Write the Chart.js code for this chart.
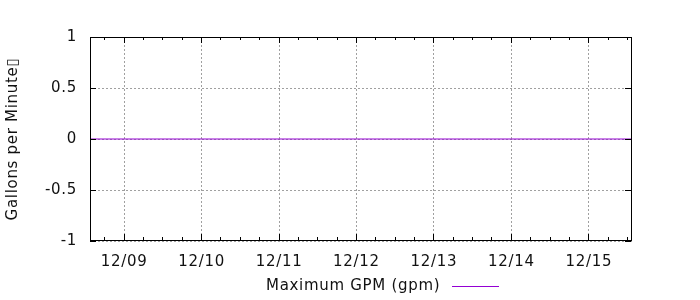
<!DOCTYPE html>
<html>
<head>
<meta charset="utf-8">
<script src="https://cdn.jsdelivr.net/npm/chart.js@4/dist/chart.umd.min.js"></script>
<style>
    html, body { margin: 0; padding: 0; background: #fff; }
</style>
</head>
<body>
<canvas id="gpmChart" width="700" height="300"></canvas>
<script>
// Hours counted from 12/09 00:00.
const sampleHours = [-10.6, 0, 24, 48, 72, 96, 120, 144, 157.4];
const maxGpm = [0, 0, 0, 0, 0, 0, 0, 0, 0];

// Day ticks on the time axis and their labels.
const dayHours = [0, 24, 48, 72, 96, 120, 144];
const dayLabels = ['12/09', '12/10', '12/11', '12/12', '12/13', '12/14', '12/15'];

// Value axis ticks.
const yTicks = [-1, -0.5, 0, 0.5, 1];

const seriesLabel = 'Maximum GPM (gpm)';
const seriesColor = '#9400d3';

const FONT = "'DejaVu Sans', sans-serif";
const SPACING = '0.7px';
Chart.defaults.font.family = FONT;
Chart.defaults.font.size = 15;
Chart.defaults.color = '#111';

const isDay = v => v % 24 === 0;

// gnuplot text is a little wider than the canvas default.
const spacing = {
    id: 'spacing',
    beforeLayout(chart) { chart.ctx.letterSpacing = SPACING; },
    beforeDraw(chart) { chart.ctx.letterSpacing = SPACING; }
};

// Frame round the plot with inward tick marks, like gnuplot draws it.
const frame = {
    id: 'frame',
    afterDatasetsDraw(chart) {
        const { ctx, chartArea: a, scales: { x, y } } = chart;
        const al = p => Math.round(p - 0.5) + 0.5;
        ctx.save();
        ctx.strokeStyle = '#000';
        ctx.lineWidth = 1;
        ctx.beginPath();
        x.ticks.forEach(t => {
            const px = al(x.getPixelForValue(t.value));
            const len = isDay(t.value) ? 6 : 3;
            ctx.moveTo(px, a.bottom - 1); ctx.lineTo(px, a.bottom - 1 - len);
            ctx.moveTo(px, a.top); ctx.lineTo(px, a.top + len);
        });
        y.ticks.forEach(t => {
            const py = al(y.getPixelForValue(t.value));
            ctx.moveTo(a.left, py); ctx.lineTo(a.left + 6, py);
            ctx.moveTo(a.right - 1, py); ctx.lineTo(a.right - 7, py);
        });
        ctx.stroke();
        ctx.strokeRect(a.left + 0.5, a.top + 0.5, a.right - a.left - 1, a.bottom - a.top - 1);
        ctx.restore();
    }
};

// Key under the axis: text first, line sample after it.
const bottomKey = {
    id: 'bottomKey',
    afterDraw(chart, args, opts) {
        const ds = chart.data.datasets[0];
        const ctx = chart.ctx;
        ctx.save();
        ctx.font = '15px ' + FONT;
        ctx.letterSpacing = SPACING;
        ctx.fillStyle = '#111';
        ctx.textAlign = 'left';
        ctx.textBaseline = 'middle';
        ctx.fillText(ds.label, opts.textLeft, opts.y);
        ctx.strokeStyle = ds.borderColor;
        ctx.lineWidth = 1;
        ctx.beginPath();
        ctx.moveTo(opts.lineStart, opts.y + 0.5);
        ctx.lineTo(opts.lineEnd, opts.y + 0.5);
        ctx.stroke();
        ctx.restore();
    }
};

const ctx = document.getElementById('gpmChart').getContext('2d');
new Chart(ctx, {
    type: 'line',
    data: {
        datasets: [{
            label: seriesLabel,
            data: sampleHours.map((h, i) => ({ x: h, y: maxGpm[i] })),
            borderColor: seriesColor,
            borderWidth: 1,
            pointRadius: 0,
            tension: 0
        }]
    },
    options: {
        responsive: false,
        animation: false,
        layout: { padding: { left: 0, top: 37, right: 68, bottom: 0 } },
        plugins: {
            legend: { display: false },
            tooltip: { enabled: false },
            bottomKey: { textLeft: 266, lineStart: 452, lineEnd: 499, y: 286 }
        },
        scales: {
            x: {
                type: 'linear',
                min: -10.6,
                max: 157.4,
                afterBuildTicks: s => {
                    const ticks = [];
                    for (let h = -6; h <= 156; h += 6) ticks.push({ value: h });
                    s.ticks = ticks;
                },
                afterFit: s => { s.height = 59; },
                ticks: {
                    autoSkip: false,
                    maxRotation: 0,
                    padding: 12,
                    callback: v => {
                        const i = dayHours.indexOf(v);
                        return i >= 0 ? dayLabels[i] : '';
                    }
                },
                grid: {
                    drawTicks: false,
                    color: c => (c.tick && isDay(c.tick.value)) ? '#a0a0a0' : 'rgba(0,0,0,0)',
                    lineWidth: 1
                },
                border: { display: false, dash: [2, 2] }
            },
            y: {
                min: -1,
                max: 1,
                afterBuildTicks: s => { s.ticks = yTicks.map(v => ({ value: v })); },
                afterFit: s => { s.width = 90; },
                ticks: {
                    padding: 13,
                    callback: v => String(v)
                },
                grid: {
                    drawTicks: false,
                    color: '#a0a0a0',
                    lineWidth: 1
                },
                border: { display: false, dash: [2, 2] },
                title: {
                    display: true,
                    text: 'Gallons per Minute\u25AF',
                    font: { size: 15 },
                    padding: { top: 4, bottom: 0 }
                }
            }
        }
    },
    plugins: [spacing, frame, bottomKey]
});
</script>
</body>
</html>
